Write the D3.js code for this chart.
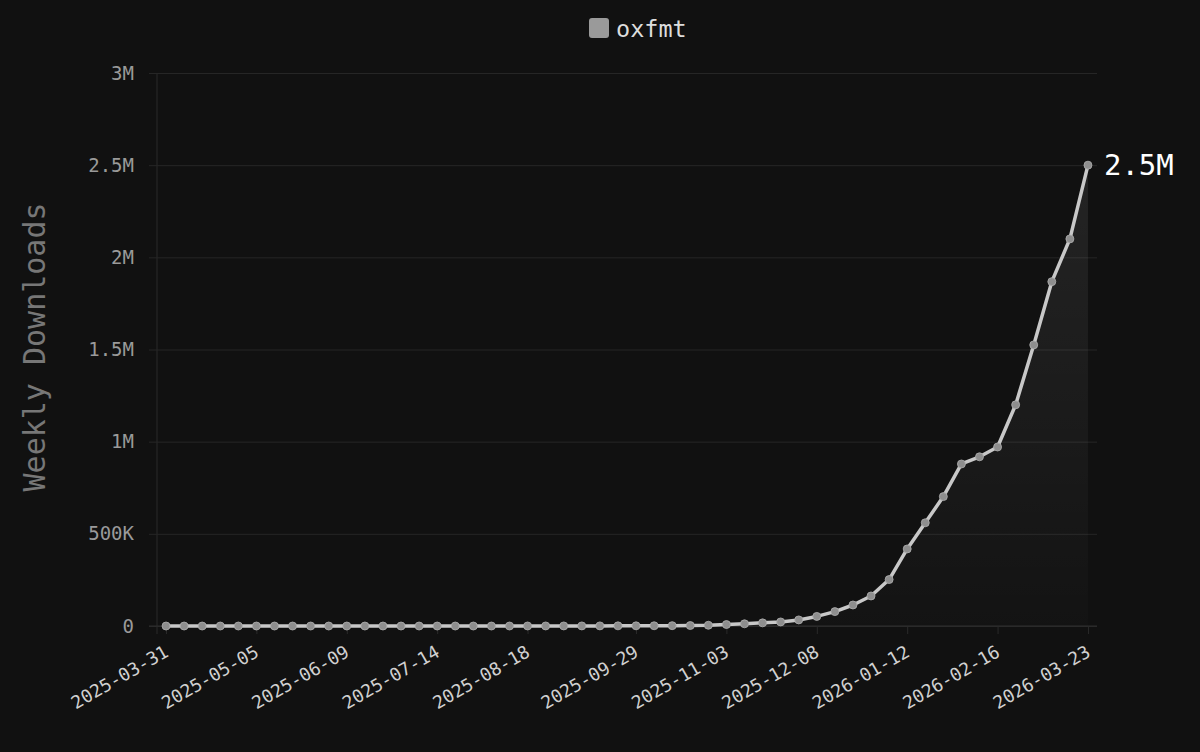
<html>
<head>
<meta charset="utf-8">
<title>oxfmt weekly downloads</title>
<script src="https://d3js.org/d3.v7.min.js"></script>
<style>
  html, body { margin: 0; padding: 0; background: #111111; }
  text { font-family: "DejaVu Sans Mono", "Liberation Mono", monospace; }
</style>
</head>
<body>
<svg id="chart" width="1200" height="752"></svg>
<script>
// weekly buckets, first and last week
const startWeek = "2025-03-31";
const endWeek = "2026-03-23";

// weekly downloads for oxfmt, one per week
const downloads = [
  0, 0, 0, 0, 0, 0, 0, 0, 0, 0,
  0, 0, 0, 0, 0, 0, 0, 0, 0, 0,
  200, 300, 400, 500, 600, 800, 1000, 1300, 1800, 2500,
  4000, 8000, 12000, 17000, 22000, 33000, 52000, 78000, 114000, 163000,
  252000, 418000, 560000, 702000, 879000, 918000, 971000, 1200000, 1525000, 1868000,
  2100000, 2500000
];

// labels shown on the x axis
const xTickLabels = ["2025-03-31", "2025-05-05", "2025-06-09", "2025-07-14", "2025-08-18",
  "2025-09-29", "2025-11-03", "2025-12-08", "2026-01-12", "2026-02-16", "2026-03-23"];
const yTicks = [0, 500000, 1000000, 1500000, 2000000, 2500000, 3000000];
const seriesName = "oxfmt";

const fmtDay = d3.utcFormat("%Y-%m-%d");
const weeks = d3.utcDay.range(new Date(startWeek), d3.utcDay.offset(new Date(endWeek), 1), 7).map(fmtDay);
const data = weeks.map((w, i) => ({ week: w, value: downloads[i] }));

const plotLeft = 157, plotRight = 1097, plotTop = 73, plotBottom = 626;
const svg = d3.select("#chart");

svg.append("rect").attr("width", 1200).attr("height", 752).attr("fill", "#111111");

const x = d3.scalePoint().domain(weeks).range([plotLeft, plotRight]).padding(0.5);
const y = d3.scaleLinear().domain([0, 3000000]).range([plotBottom, plotTop]);

function fmtY(v) {
  if (v === 0) return "0";
  if (v < 1e6) return (v / 1e3) + "K";
  return (v / 1e6) + "M";
}

// grid + y axis
const yAxis = svg.append("g")
  .attr("transform", "translate(" + plotLeft + ",0)")
  .call(d3.axisLeft(y).tickValues(yTicks).tickFormat(fmtY).tickSize(8).tickPadding(15));
yAxis.select(".domain").attr("stroke", "#2a2a2a").attr("d", "M0," + plotTop + "V" + (plotBottom + 8));
yAxis.selectAll(".tick line")
  .attr("stroke", "#262626")
  .attr("x1", -8)
  .attr("x2", plotRight - plotLeft);
yAxis.selectAll(".tick text")
  .attr("fill", "#9a9a9a")
  .style("font-size", "19px");

// x axis
const xAxis = svg.append("g")
  .attr("transform", "translate(0," + plotBottom + ")")
  .call(d3.axisBottom(x).tickValues(xTickLabels).tickSize(8));
xAxis.select(".domain").attr("stroke", "#2e2e2e").attr("d", "M" + (plotLeft - 8) + ",0H" + plotRight);
xAxis.selectAll(".tick line").attr("stroke", "#2a2a2a");
xAxis.selectAll(".tick text")
  .attr("fill", "#d0d0d0")
  .style("font-size", "18px")
  .attr("text-anchor", "end")
  .attr("y", 0)
  .attr("dy", "0.35em")
  .attr("transform", "translate(0,24) rotate(-30)");

// y axis title
svg.append("text")
  .attr("transform", "translate(34,347) rotate(-90)")
  .attr("text-anchor", "middle")
  .attr("dy", "0.35em")
  .attr("fill", "#777777")
  .style("font-size", "30px")
  .text("Weekly Downloads");

// area gradient
const defs = svg.append("defs");
const grad = defs.append("linearGradient")
  .attr("id", "areaGrad")
  .attr("x1", 0).attr("y1", 0).attr("x2", 0).attr("y2", 1);
grad.append("stop").attr("offset", "0%").attr("stop-color", "#ffffff").attr("stop-opacity", 0.08);
grad.append("stop").attr("offset", "100%").attr("stop-color", "#ffffff").attr("stop-opacity", 0.01);

const cx = d => x(d.week);

svg.append("path")
  .datum(data)
  .attr("fill", "url(#areaGrad)")
  .attr("d", d3.area().x(cx).y0(y(0)).y1(d => y(d.value)));

svg.append("path")
  .datum(data)
  .attr("fill", "none")
  .attr("stroke", "#c8c8c8")
  .attr("stroke-width", 3.5)
  .attr("stroke-linejoin", "round")
  .attr("d", d3.line().x(cx).y(d => y(d.value)));

svg.append("g")
  .selectAll("circle").data(data).enter().append("circle")
  .attr("cx", cx)
  .attr("cy", d => y(d.value))
  .attr("r", 4)
  .attr("fill", "#8e8e8e")
  .attr("stroke", "#b0b0b0")
  .attr("stroke-width", 0.8);

// end label
const last = data[data.length - 1];
svg.append("text")
  .attr("x", cx(last) + 16)
  .attr("y", y(last.value))
  .attr("dy", "0.35em")
  .attr("fill", "#ffffff")
  .style("font-size", "29px")
  .text((last.value / 1e6).toFixed(1) + "M");

// legend
const leg = svg.append("g");
leg.append("rect")
  .attr("x", 589).attr("y", 18).attr("width", 20).attr("height", 20).attr("rx", 3)
  .attr("fill", "#9a9a9a");
leg.append("text")
  .attr("x", 616).attr("y", 29)
  .attr("dy", "0.35em")
  .attr("fill", "#dddddd")
  .style("font-size", "23.5px")
  .text(seriesName);
</script>
</body>
</html>
